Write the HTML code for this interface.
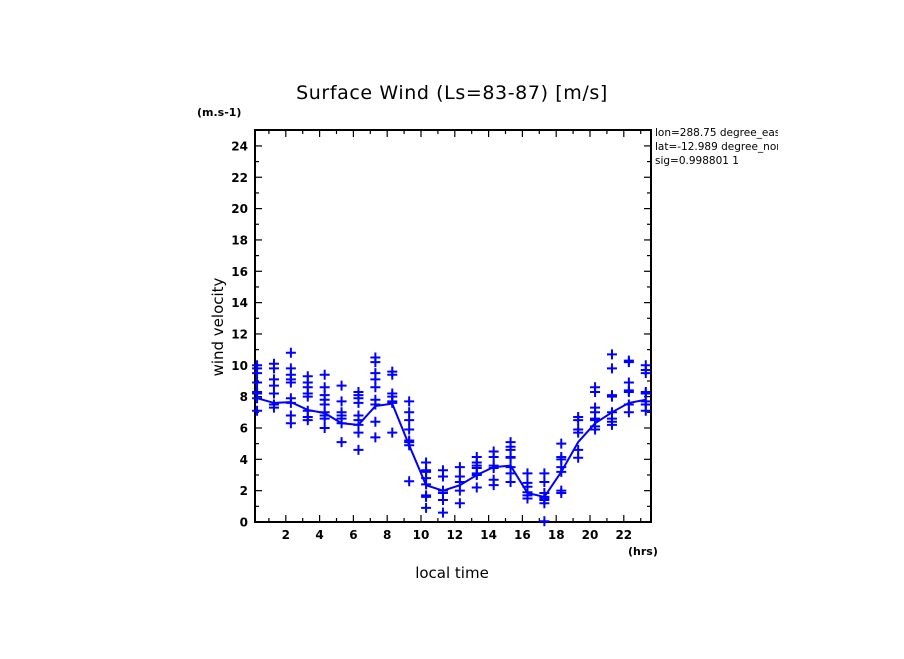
<!DOCTYPE html>
<html><head><meta charset="utf-8"><style>
body{margin:0;background:#fff;width:904px;height:654px;overflow:hidden}
svg text{font-family:"DejaVu Sans","Liberation Sans",sans-serif}
</style></head><body>
<svg id="chart" width="904" height="654" xmlns="http://www.w3.org/2000/svg">
<text x="452" y="99" font-size="19" letter-spacing="0.6" text-anchor="middle">Surface Wind  (Ls=83-87) [m/s]</text>
<text x="197" y="116" font-size="11" font-weight="bold">(m.s-1)</text>
<text transform="translate(223,327) rotate(-90)" font-size="15" text-anchor="middle">wind velocity</text>
<text x="452" y="578" font-size="15" text-anchor="middle">local time</text>
<text x="628" y="555" font-size="11" font-weight="bold">(hrs)</text>
<svg x="655" y="124" width="123" height="50"><g font-size="10.5">
<text x="0" y="12">lon=288.75 degree_east</text>
<text x="0" y="26">lat=-12.989 degree_north</text>
<text x="0" y="40">sig=0.998801 1</text></g></svg>
<g id="axes"></g><g id="marks"></g>
</svg>
<script>
const hours=[0.3,1.3,2.3,3.3,4.3,5.3,6.3,7.3,8.3,9.3,10.3,11.3,12.3,13.3,14.3,15.3,16.3,17.3,18.3,19.3,20.3,21.3,22.3,23.3];
const meanWind=[7.9,7.6,7.65,7.15,6.95,6.3,6.2,7.4,7.55,4.9,2.35,2.0,2.35,3.0,3.5,3.6,1.85,1.6,3.2,5.1,6.3,7.0,7.6,7.8];
const samples=[
[10.0,9.8,9.5,8.9,8.3,8.2,7.9,7.1],
[10.1,9.8,9.1,8.7,8.2,7.5,7.3],
[10.8,9.8,9.4,9.1,8.9,7.9,7.6,6.8,6.3],
[9.3,8.9,8.6,8.2,8.0,7.1,6.7,6.5],
[9.4,8.6,8.1,7.8,7.5,7.0,6.8,6.6,6.0],
[8.7,7.7,7.0,6.8,6.6,6.3,5.1],
[8.3,8.1,7.9,7.6,6.8,6.5,6.2,5.7,4.6],
[10.5,10.2,9.5,9.1,8.6,7.8,7.5,6.4,5.4],
[9.6,9.4,8.2,8.0,7.7,7.6,5.7],
[7.7,7.0,6.5,5.9,5.2,5.1,4.9,2.6],
[3.8,3.3,3.2,2.8,2.4,1.7,1.6,0.9],
[3.3,2.9,2.0,1.85,1.4,0.6],
[3.5,2.9,2.55,2.0,1.2],
[4.15,3.8,3.6,3.45,3.1,3.0,2.2],
[4.5,4.15,3.6,3.45,2.7,2.35],
[5.1,4.8,4.6,4.15,4.1,3.5,3.1,2.55],
[3.1,2.5,2.25,1.9,1.7,1.5],
[3.1,2.55,1.85,1.6,1.5,1.4,1.2,0.05],
[5.0,4.15,4.0,3.5,3.2,2.0,1.85],
[6.7,6.5,5.9,5.7,4.6,4.1],
[8.6,8.3,7.3,7.0,6.6,6.5,6.1,5.9],
[10.7,9.8,8.1,8.0,7.0,6.6,6.4,6.2],
[10.3,10.2,8.9,8.4,8.3,7.5,7.0],
[10.0,9.7,9.5,8.3,8.2,7.7,7.5,7.1]];
const xTicks=[2,4,6,8,10,12,14,16,18,20,22];
const yTicks=[0,2,4,6,8,10,12,14,16,18,20,22,24];
const L=255,R=651,T=130,B=522;
const xS=h=>252+16.9*h;
const yS=v=>B-v*15.67;
const NS='http://www.w3.org/2000/svg';
const ax=document.getElementById('axes'),mk=document.getElementById('marks');
function el(t,a,p){const e=document.createElementNS(NS,t);for(const k in a)e.setAttribute(k,a[k]);p.appendChild(e);return e;}
const fr=el('rect',{x:L,y:T,width:R-L,height:B-T,fill:'none',stroke:'#000','stroke-width':2},ax);


for(let h=1;h<=23;h++){const x=xS(h);const len=(h%2==0)?7:4;
 el('line',{x1:x,y1:B,x2:x,y2:B-len,stroke:'#000','stroke-width':1.2},ax);
 el('line',{x1:x,y1:T,x2:x,y2:T+len,stroke:'#000','stroke-width':1.2},ax);}
xTicks.forEach(h=>{const t=el('text',{x:xS(h),y:B+17,'font-size':12,'font-weight':'bold','text-anchor':'middle'},ax);t.textContent=h;
 
 });
for(let v=1;v<=24;v++){const y=yS(v);const len=(v%2==0)?7:4;
 el('line',{x1:L,y1:y,x2:L+len,y2:y,stroke:'#000','stroke-width':1.2},ax);
 el('line',{x1:R,y1:y,x2:R-len,y2:y,stroke:'#000','stroke-width':1.2},ax);}
yTicks.forEach(v=>{const t=el('text',{x:L-7,y:yS(v)+4.5,'font-size':12,'font-weight':'bold','text-anchor':'end'},ax);t.textContent=v;
 
 });
const line=el('polyline',{points:hours.map((h,i)=>xS(h)+','+yS(meanWind[i])).join(' '),fill:'none',stroke:'#0000ff','stroke-width':2},mk);


samples.forEach((arr,i)=>arr.forEach(v=>{const x=xS(hours[i]),y=yS(v);
 const p=el('path',{d:`M${x-5} ${y}H${x+5}M${x} ${y-5}V${y+5}`,stroke:'#0000ff','stroke-width':2},mk);
 
 }));
</script>
</body></html>
